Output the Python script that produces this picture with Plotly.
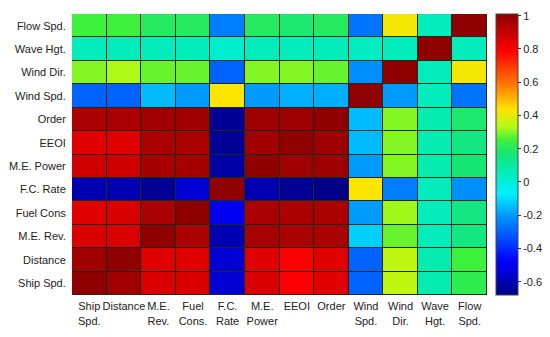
import plotly.graph_objects as go

col_labels = ["Ship<br>Spd.", "Distance", "M.E.<br>Rev.", "Fuel<br>Cons.", "F.C.<br>Rate", "M.E.<br>Power",
              "EEOI", "Order", "Wind<br>Spd.", "Wind<br>Dir.", "Wave<br>Hgt.", "Flow<br>Spd."]
row_labels = ["Ship Spd.", "Distance", "M.E. Rev.", "Fuel Cons", "F.C. Rate", "M.E. Power",
              "EEOI", "Order", "Wind Spd.", "Wind Dir.", "Wave Hgt.", "Flow Spd."]

# rows listed bottom (Ship Spd.) to top (Flow Spd.)
row_ship_spd   = [1.00, 0.97, 0.86, 0.86, -0.55, 0.86, 0.80, 0.85, -0.30, 0.35, 0.07, 0.22]
row_distance   = [0.97, 1.00, 0.85, 0.85, -0.55, 0.85, 0.80, 0.85, -0.30, 0.35, 0.07, 0.25]
row_me_rev     = [0.86, 0.86, 1.00, 0.95, -0.60, 0.96, 0.95, 0.95, -0.12, 0.28, 0.05, 0.15]
row_fuel_cons  = [0.85, 0.86, 0.95, 1.00, -0.50, 0.95, 0.95, 0.95, -0.20, 0.32, 0.05, 0.15]
row_fc_rate    = [-0.60, -0.60, -0.65, -0.55, 1.00, -0.60, -0.65, -0.67, 0.43, -0.25, 0.05, -0.22]
row_me_power   = [0.88, 0.88, 0.96, 0.96, -0.62, 1.00, 0.97, 0.98, -0.20, 0.30, 0.07, 0.17]
row_eeoi       = [0.85, 0.85, 0.95, 0.95, -0.65, 0.97, 1.00, 0.98, -0.15, 0.30, 0.07, 0.15]
row_order      = [0.95, 0.95, 0.97, 0.97, -0.65, 0.98, 0.98, 1.00, -0.15, 0.30, 0.07, 0.18]
row_wind_spd   = [-0.30, -0.30, -0.15, -0.20, 0.43, -0.20, -0.17, -0.17, 1.00, -0.20, 0.05, -0.27]
row_wind_dir   = [0.30, 0.33, 0.28, 0.28, -0.30, 0.30, 0.30, 0.28, -0.22, 1.00, 0.05, 0.42]
row_wave_hgt   = [0.05, 0.05, 0.05, 0.05, 0.02, 0.05, 0.05, 0.05, 0.04, 0.05, 1.00, 0.05]
row_flow_spd   = [0.25, 0.25, 0.20, 0.20, -0.25, 0.20, 0.18, 0.20, -0.27, 0.42, 0.05, 1.00]

z = [row_ship_spd, row_distance, row_me_rev, row_fuel_cons, row_fc_rate, row_me_power,
     row_eeoi, row_order, row_wind_spd, row_wind_dir, row_wave_hgt, row_flow_spd]

zmin, zmax = -0.68, 1.01
colorscale = [
    [0.00, "rgb(0,0,130)"],
    [0.12, "rgb(0,0,255)"],
    [0.28, "rgb(0,150,255)"],
    [0.36, "rgb(0,240,255)"],
    [0.42, "rgb(0,238,200)"],
    [0.50, "rgb(20,230,120)"],
    [0.55, "rgb(60,240,60)"],
    [0.60, "rgb(180,250,20)"],
    [0.66, "rgb(255,228,0)"],
    [0.75, "rgb(255,120,0)"],
    [0.87, "rgb(255,0,0)"],
    [1.00, "rgb(140,0,0)"],
]

fig = go.Figure(go.Heatmap(
    z=z, x=list(range(12)), y=list(range(12)),
    zmin=zmin, zmax=zmax, colorscale=colorscale,
    xgap=1, ygap=1,
    colorbar=dict(
        x=1.022, xanchor="left", xpad=0, ypad=0,
        thickness=22, len=1, lenmode="fraction", y=0.5, yanchor="middle",
        tickvals=[1, 0.8, 0.6, 0.4, 0.2, 0, -0.2, -0.4, -0.6],
        ticktext=["1", "0.8", "0.6", "0.4", "0.2", "0", "-0.2", "-0.4", "-0.6"],
        ticks="outside", ticklen=3, tickcolor="#333",
        tickfont=dict(size=11, color="#222", family="Liberation Sans"),
        outlinewidth=1, outlinecolor="#444",
    ),
))

fig.update_layout(
    width=542, height=329,
    margin=dict(l=64, r=63, t=6, b=42, autoexpand=False),
    paper_bgcolor="white", plot_bgcolor="#1c2a1c",
    font=dict(family="Liberation Sans", size=11, color="#222"),
)
fig.update_xaxes(
    tickmode="array", tickvals=list(range(12)), ticktext=col_labels, tickangle=0,
    ticks="outside", ticklen=1, tickcolor="rgba(0,0,0,0)",
    showgrid=False, zeroline=False, range=[-0.5, 11.5],
)
fig.update_yaxes(
    tickmode="array", tickvals=list(range(12)), ticktext=row_labels,
    ticks="outside", ticklen=3, tickcolor="rgba(0,0,0,0)",
    showgrid=False, zeroline=False, range=[-0.5, 11.5],
)

fig.write_html("out.html")
